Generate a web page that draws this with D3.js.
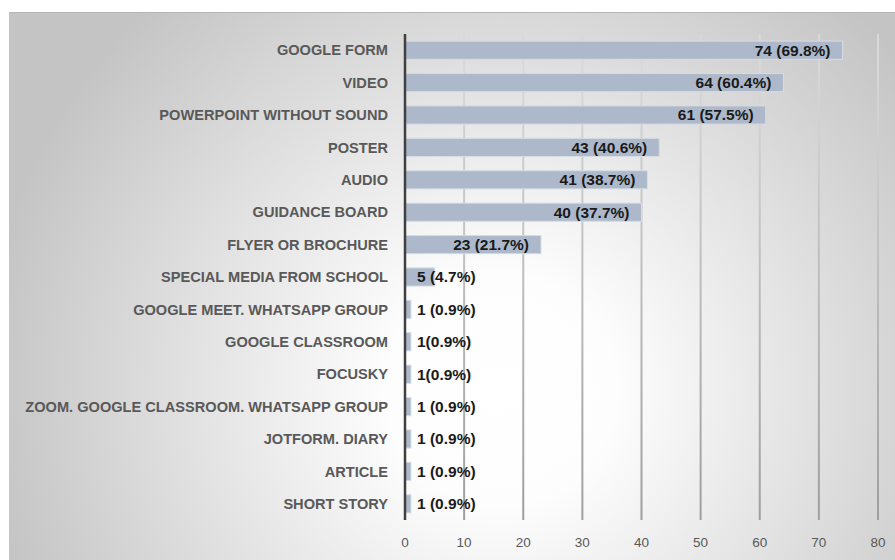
<!DOCTYPE html>
<html>
<head>
<meta charset="utf-8">
<script src="https://cdn.jsdelivr.net/npm/d3@7"></script>
<style>
  body { margin: 0; background: #fff; }
  svg { display: block; }
</style>
</head>
<body>
<div id="okvir"></div>
<script>
const kategorije = [
  "GOOGLE FORM", "VIDEO", "POWERPOINT WITHOUT SOUND", "POSTER", "AUDIO",
  "GUIDANCE BOARD", "FLYER OR BROCHURE", "SPECIAL MEDIA FROM SCHOOL",
  "GOOGLE MEET. WHATSAPP GROUP", "GOOGLE CLASSROOM", "FOCUSKY",
  "ZOOM. GOOGLE CLASSROOM. WHATSAPP GROUP", "JOTFORM. DIARY", "ARTICLE", "SHORT STORY"
];
const vrijednosti = [74, 64, 61, 43, 41, 40, 23, 5, 1, 1, 1, 1, 1, 1, 1];
const oznake = [
  "74 (69.8%)", "64 (60.4%)", "61 (57.5%)", "43 (40.6%)", "41 (38.7%)",
  "40 (37.7%)", "23 (21.7%)", "5 (4.7%)", "1 (0.9%)", "1(0.9%)", "1(0.9%)",
  "1 (0.9%)", "1 (0.9%)", "1 (0.9%)", "1 (0.9%)"
];
const xTicks = [0, 10, 20, 30, 40, 50, 60, 70, 80];

const dataset = kategorije.map((k, i) => ({ kat: k, val: vrijednosti[i], lab: oznake[i] }));

const dimenzije = {
  sirina: 895,
  visina: 560,
  margine: { top: 34, right: 17, bottom: 40, left: 405 },
};
dimenzije.grSirina = dimenzije.sirina - dimenzije.margine.left - dimenzije.margine.right;
dimenzije.grVisina = dimenzije.visina - dimenzije.margine.top - dimenzije.margine.bottom;

const font = "'Liberation Sans', Arial, sans-serif";

const okvir = d3.select("#okvir")
  .append("svg")
  .attr("width", dimenzije.sirina)
  .attr("height", dimenzije.visina);

const defs = okvir.append("defs");
const rg = defs.append("radialGradient")
  .attr("id", "pozadina")
  .attr("gradientUnits", "userSpaceOnUse")
  .attr("cx", 500).attr("cy", 390).attr("r", 520);
rg.append("stop").attr("offset", "0%").attr("stop-color", "#ffffff");
rg.append("stop").attr("offset", "22%").attr("stop-color", "#fdfdfd");
rg.append("stop").attr("offset", "100%").attr("stop-color", "#c4c4c4");

const lg = defs.append("linearGradient")
  .attr("id", "mreza")
  .attr("gradientUnits", "userSpaceOnUse")
  .attr("x1", 0).attr("y1", 34).attr("x2", 0).attr("y2", 520);
lg.append("stop").attr("offset", "0%").attr("stop-color", "#d8d8d8");
lg.append("stop").attr("offset", "100%").attr("stop-color", "#9a9a9a");

okvir.append("rect")
  .attr("x", 9).attr("y", 12)
  .attr("width", dimenzije.sirina - 9)
  .attr("height", dimenzije.visina - 12)
  .attr("fill", "url(#pozadina)");
okvir.append("line")
  .attr("x1", 9).attr("x2", dimenzije.sirina)
  .attr("y1", 12.5).attr("y2", 12.5)
  .attr("stroke", "#b5b5b5").attr("stroke-width", 1);

const granice = okvir.append("g")
  .attr("transform", `translate(${dimenzije.margine.left},${dimenzije.margine.top})`);

const xScale = d3.scaleLinear()
  .domain([0, 80])
  .range([0, 473]);

const yScale = d3.scaleBand()
  .domain(kategorije)
  .range([0, 486])
  .paddingInner(0.44)
  .paddingOuter(0.22);

// gridlines
granice.selectAll(".grid")
  .data(xTicks.slice(1))
  .enter().append("line")
    .attr("class", "grid")
    .attr("x1", d => xScale(d)).attr("x2", d => xScale(d))
    .attr("y1", 0).attr("y2", 486)
    .attr("stroke", "url(#mreza)")
    .attr("stroke-width", 2);

// bars
granice.selectAll(".bar")
  .data(dataset)
  .enter().append("rect")
    .attr("class", "bar")
    .attr("x", 0)
    .attr("y", d => yScale(d.kat))
    .attr("width", d => xScale(d.val))
    .attr("height", yScale.bandwidth())
    .attr("fill", "#adb9ca")
    .attr("stroke", "#d6dce5")
    .attr("stroke-width", 1);

// y axis line
granice.append("line")
  .attr("x1", 0).attr("x2", 0)
  .attr("y1", 0).attr("y2", 486)
  .attr("stroke", "#404040")
  .attr("stroke-width", 2.5);

// category labels
granice.selectAll(".kat")
  .data(dataset)
  .enter().append("text")
    .attr("class", "kat")
    .attr("x", -17)
    .attr("y", d => yScale(d.kat) + yScale.bandwidth() / 2)
    .attr("dy", "0.35em")
    .attr("text-anchor", "end")
    .attr("font-family", font)
    .attr("font-weight", "bold")
    .attr("font-size", "14.6px")
    .attr("fill", "#595959")
    .text(d => d.kat);

// value labels
const lbl = granice.selectAll(".lbl")
  .data(dataset)
  .enter().append("text")
    .attr("class", "lbl")
    .attr("y", d => yScale(d.kat) + yScale.bandwidth() / 2)
    .attr("dy", "0.35em")
    .attr("font-family", font)
    .attr("font-weight", "bold")
    .attr("font-size", "15.5px")
    .attr("fill", "#1a1a1a")
    .text(d => d.lab);

lbl.each(function(d) {
  const w = this.getComputedTextLength();
  const bw = xScale(d.val);
  if (bw > w + 20) {
    d3.select(this).attr("x", bw - 12).attr("text-anchor", "end");
  } else {
    d3.select(this).attr("x", 12).attr("text-anchor", "start");
  }
});

// x tick labels
granice.selectAll(".tick-lbl")
  .data(xTicks)
  .enter().append("text")
    .attr("class", "tick-lbl")
    .attr("x", d => xScale(d))
    .attr("y", 508)
    .attr("dy", "0.35em")
    .attr("text-anchor", "middle")
    .attr("font-family", font)
    .attr("font-size", "13.5px")
    .attr("fill", "#595959")
    .text(d => d);
</script>
</body>
</html>
